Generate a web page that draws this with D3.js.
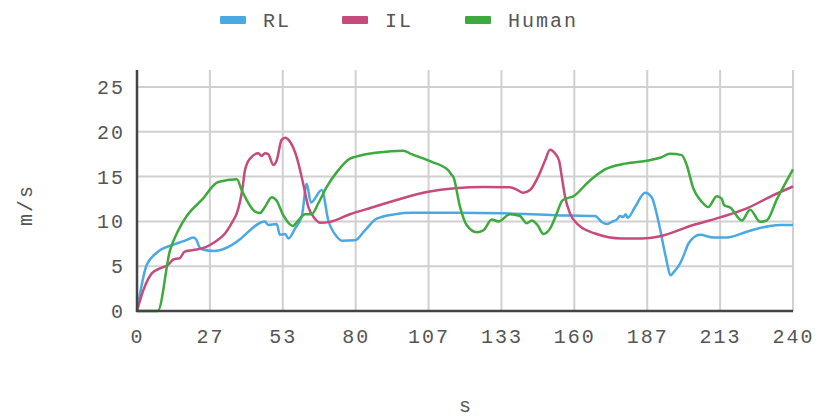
<!DOCTYPE html>
<html>
<head>
<meta charset="utf-8">
<script src="https://cdn.jsdelivr.net/npm/d3@7"></script>
<style>
  body { margin: 0; background: #fff; }
  svg text { font-family: "Courier New", "Liberation Mono", monospace; fill: #555; }
</style>
</head>
<body>
<svg id="chart" width="819" height="418"></svg>
<script>
// series: [time (s), speed (m/s)]
var rlData = [[0,0],[3.5,5.1],[7.2,6.5],[12.7,7.35],[17.6,7.85],[20.6,8.2],[21.8,7.9],[22.7,7.2],[23.7,6.9],[28.5,6.7],[34.6,7.35],[37.7,8.0],[39.5,8.5],[46.8,10.0],[48,9.6],[51.1,9.7],[52.3,8.5],[54.2,8.6],[55.4,8.1],[57.8,9.2],[60.3,10.6],[62.1,14.2],[63.6,12.1],[67.6,13.5],[70,10.1],[73.1,8.3],[74.9,7.85],[79.8,7.9],[83.4,9.0],[87.7,10.3],[94.4,10.8],[100.5,10.96],[116.4,10.96],[134,10.9],[153,10.7],[167.6,10.6],[170,9.95],[171.9,9.7],[173.7,9.95],[175.5,10.2],[176.7,10.6],[177.9,10.5],[178.8,10.8],[179.5,10.4],[182.2,11.6],[185.9,13.2],[188.3,12.7],[190.7,10.1],[193.2,6.4],[195.3,4.0],[196.5,4.4],[198,4.95],[199.3,5.7],[200.5,6.6],[201.7,7.5],[206,8.5],[210.9,8.2],[215.8,8.2],[223.1,8.85],[231.6,9.5],[235.3,9.6],[240,9.6]];

var ilData = [[0,0],[2.3,2.3],[5.4,4.2],[8.4,4.75],[11.5,5.2],[13.3,5.75],[15.7,5.9],[17.3,6.6],[20.6,6.8],[24.9,7.1],[28.5,7.7],[32.2,8.65],[35,10],[36.5,10.9],[38.5,13.5],[39.5,15.7],[41.3,17.0],[44.4,17.6],[45.6,17.3],[46.8,17.6],[48,17.5],[49.9,16.3],[51.1,16.8],[52.9,19.1],[54.2,19.35],[56,18.9],[58.4,17.2],[60.8,14.2],[62.7,11.6],[65.1,10.3],[67,9.85],[70.6,9.95],[77.9,10.8],[85.9,11.55],[95.6,12.45],[106.6,13.3],[116.4,13.7],[126.7,13.85],[136.5,13.8],[138.9,13.55],[141.3,13.2],[143.8,13.5],[146.8,15.0],[149.3,16.8],[151.1,18.0],[152.9,17.6],[154.4,16.8],[155.4,15.0],[156.6,12.75],[158.4,10.9],[161.5,9.6],[167.6,8.65],[177.4,8.1],[184.7,8.1],[191.4,8.35],[203.5,9.6],[213.3,10.45],[223.1,11.45],[231.6,12.75],[240,13.9]];

var humanData = [[0,0],[7.6,0],[12.1,6.8],[15.1,9.0],[18.2,10.6],[23.7,12.4],[29.7,14.4],[36.5,14.7],[38.3,13.5],[40.1,12.4],[43.2,11.1],[45,10.95],[46.8,11.6],[49.3,12.7],[51.1,12.3],[53.5,10.7],[57,9.5],[59,10.1],[61.5,10.8],[63.9,10.8],[66.3,12.0],[69.4,13.85],[73.1,15.5],[77.9,17.0],[79.8,17.2],[88.3,17.7],[97.4,17.9],[100.5,17.5],[107.8,16.65],[113.9,15.7],[115.1,15.2],[115.7,15.0],[118.2,11.6],[120.6,9.6],[124.3,8.8],[126.7,9.0],[129.8,10.2],[132.2,10.0],[136.5,10.8],[140.1,10.6],[142.6,9.8],[144.4,10.1],[146.5,9.6],[148.7,8.6],[151.1,9.2],[153.6,10.9],[155.5,12.3],[157.5,12.6],[159.6,12.8],[165.1,14.4],[171.2,15.8],[178.6,16.45],[187.1,16.8],[191.4,17.1],[195,17.55],[199.3,17.4],[201.1,16.3],[203.5,13.7],[206.6,12.2],[209,11.6],[212.1,12.8],[213.9,12.55],[214.8,11.8],[217,11.55],[221.3,10.1],[224.3,11.3],[228,9.95],[230.4,10.1],[234,12.4],[240,15.8]];

var seriesNames = ["RL", "IL", "Human"];
var seriesColors = ["#4aa9e2", "#c64a7b", "#3caa3c"];
var xTickValues = [0, 26.67, 53.33, 80, 106.67, 133.33, 160, 186.67, 213.33, 240];
var yTickValues = [0, 5, 10, 15, 20, 25];

var svg = d3.select("#chart");
var margin = {top: 70, right: 26, bottom: 107, left: 137};
var width = 819, height = 418;

var xScale = d3.scaleLinear()
    .domain([0, 240])
    .range([margin.left, width - margin.right]);

var yScale = d3.scaleLinear()
    .domain([0, 26.9])
    .range([height - margin.bottom, margin.top]);

// grid
svg.append("g")
    .selectAll("line.vgrid")
    .data(xTickValues.slice(1))
    .enter()
    .append("line")
    .attr("x1", function(d){ return xScale(d); })
    .attr("x2", function(d){ return xScale(d); })
    .attr("y1", yScale.range()[1])
    .attr("y2", yScale.range()[0])
    .style("stroke", "#d0d0d0")
    .style("stroke-width", 2);

svg.append("g")
    .selectAll("line.hgrid")
    .data(yTickValues.slice(1))
    .enter()
    .append("line")
    .attr("x1", xScale.range()[0])
    .attr("x2", xScale.range()[1])
    .attr("y1", function(d){ return yScale(d); })
    .attr("y2", function(d){ return yScale(d); })
    .style("stroke", "#d0d0d0")
    .style("stroke-width", 2);

// axes
var xAxis = d3.axisBottom(xScale)
    .tickValues(xTickValues)
    .tickFormat(function(d){ return Math.round(d); })
    .tickSize(0)
    .tickPadding(18);

var yAxis = d3.axisLeft(yScale)
    .tickValues(yTickValues)
    .tickSize(0)
    .tickPadding(12);

var gx = svg.append("g")
    .attr("transform", "translate(0," + yScale(0) + ")")
    .call(xAxis);

var gy = svg.append("g")
    .attr("transform", "translate(" + xScale(0) + ",0)")
    .call(yAxis);

[gx, gy].forEach(function(g){
    g.select(".domain").remove();
    g.selectAll("text")
        .style("font-size", "20px")
        .style("letter-spacing", "2px")
        .style("font-family", "'Courier New', 'Liberation Mono', monospace")
        .attr("fill", "#555");
});

// lines
var line = d3.line()
    .x(function(d){ return xScale(d[0]); })
    .y(function(d){ return yScale(d[1]); })
    .curve(d3.curveMonotoneX);

var allSeries = [rlData, ilData, humanData];

svg.append("g")
    .selectAll("path")
    .data(allSeries)
    .enter()
    .append("path")
    .attr("d", line)
    .style("fill", "none")
    .style("stroke", function(d, i){ return seriesColors[i]; })
    .style("stroke-width", 2.5)
    .style("stroke-linejoin", "round");

// axis lines on top
svg.append("line")
    .attr("x1", xScale(0)).attr("x2", xScale(0))
    .attr("y1", yScale.range()[1]).attr("y2", yScale(0) + 1)
    .style("stroke", "#444").style("stroke-width", 2.5);

svg.append("line")
    .attr("x1", xScale(0) - 1).attr("x2", xScale(240))
    .attr("y1", yScale(0)).attr("y2", yScale(0))
    .style("stroke", "#444").style("stroke-width", 2.5);

// axis titles
svg.append("text")
    .attr("transform", "translate(32,205) rotate(-90)")
    .attr("text-anchor", "middle")
    .style("font-size", "20px")
    .style("letter-spacing", "2px")
    .text("m/s");

svg.append("text")
    .attr("x", xScale(120))
    .attr("y", 412)
    .attr("text-anchor", "middle")
    .style("font-size", "20px")
    .text("s");

// legend
var legendX = [220, 342, 465];
var legend = svg.append("g")
    .selectAll("g")
    .data(seriesNames)
    .enter()
    .append("g")
    .attr("transform", function(d, i){ return "translate(" + legendX[i] + ",20)"; });

legend.append("rect")
    .attr("x", 0).attr("y", -4)
    .attr("width", 26).attr("height", 8)
    .attr("rx", 1)
    .style("fill", function(d, i){ return seriesColors[i]; });

legend.append("text")
    .attr("x", 43)
    .attr("y", 7)
    .style("font-size", "20px")
    .style("letter-spacing", "2px")
    .text(function(d){ return d; });
</script>
</body>
</html>
